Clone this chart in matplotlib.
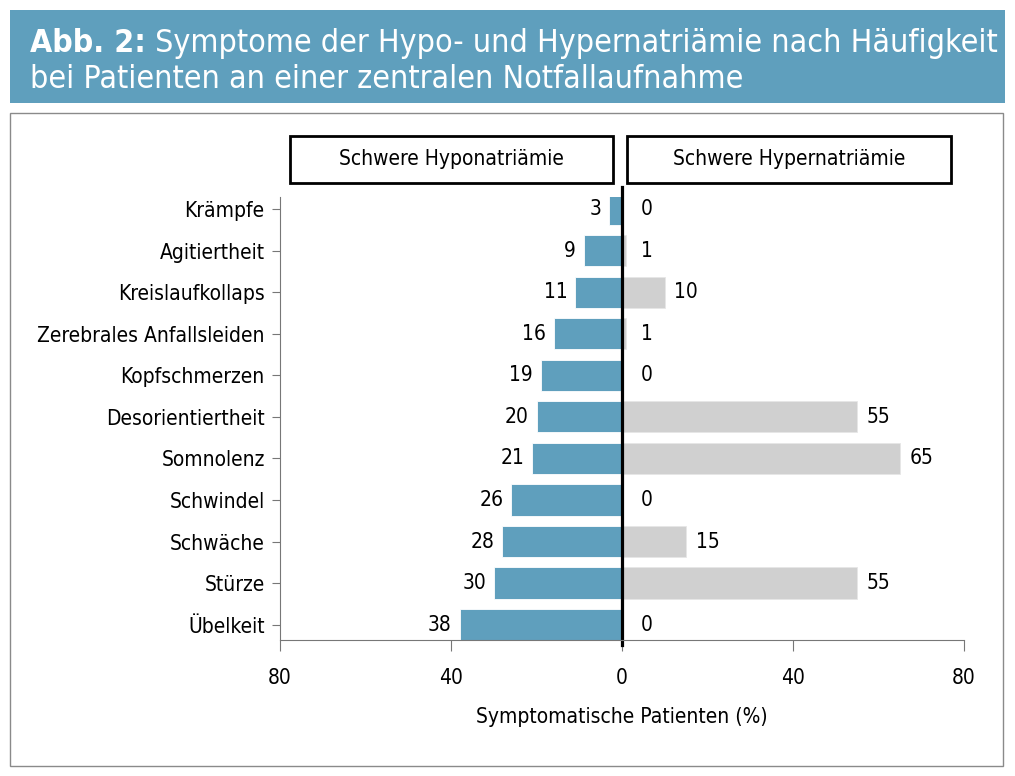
import matplotlib
matplotlib.use('Agg')
import matplotlib.pyplot as plt
from matplotlib.patches import Rectangle
from matplotlib.text import Annotation

symptoms = ['Krämpfe', 'Agitiertheit', 'Kreislaufkollaps', 'Zerebrales Anfallsleiden',
            'Kopfschmerzen', 'Desorientiertheit', 'Somnolenz', 'Schwindel',
            'Schwäche', 'Stürze', 'Übelkeit']
hypo = [3, 9, 11, 16, 19, 20, 21, 26, 28, 30, 38]
hyper = [0, 1, 10, 1, 0, 55, 65, 0, 15, 55, 0]
xticks = [-80, -40, 0, 40, 80]
xticklabels = ['80', '40', '0', '40', '80']

plt.rcParams['font.family'] = ['DejaVu Sans']
plt.rcParams['font.stretch'] = 'condensed'
blue = '#5f9fbd'
grey = '#d0d0d0'
fs = 15

fig = plt.figure(figsize=(10.15, 7.76), dpi=100)

# titelband + rahmen
fig.patches.append(Rectangle((10 / 1015, 1 - 103 / 776), 995 / 1015, 93 / 776,
                             transform=fig.transFigure, facecolor=blue, edgecolor='none'))
fig.patches.append(Rectangle((10 / 1015, 1 - 766 / 776), 993 / 1015, 653 / 776,
                             transform=fig.transFigure, facecolor='none',
                             edgecolor='#8a8a8a', linewidth=1))
t1 = fig.text(30 / 1015, 1 - 59 / 776, 'Abb. 2:', color='white', fontsize=23,
              fontweight='bold', va='bottom', ha='left')
fig.add_artist(Annotation(' Symptome der Hypo- und Hypernatriämie nach Häufigkeit',
                          xy=(1, 0), xycoords=t1, color='white', fontsize=23,
                          va='bottom', ha='left'))
fig.text(30 / 1015, 1 - 80 / 776, 'bei Patienten an einer zentralen Notfallaufnahme',
         color='white', fontsize=23, va='center', ha='left')

ax = fig.add_axes([280 / 1015, 1 - 640 / 776, 684 / 1015, 443 / 776])
y = range(len(symptoms))
ax.barh(y, [-v for v in hypo], height=0.75, color=blue, edgecolor='white', linewidth=0.6)
ax.barh(y, hyper, height=0.75, color=grey, edgecolor='#e6e6e6', linewidth=0.6)

for i, (a, b) in enumerate(zip(hypo, hyper)):
    ax.text(-a - 1.8, i, str(a), ha='right', va='center', fontsize=fs)
    ax.text(max(b + 2.2, 4.4), i, str(b), ha='left', va='center', fontsize=fs)

ax.set_xlim(-80, 80)
ax.set_ylim(10.37, -0.29)
ax.set_yticks(list(y))
ax.set_yticklabels(symptoms, fontsize=fs)
ax.set_xticks(xticks)
ax.set_xticklabels(xticklabels, fontsize=fs)
ax.set_xlabel('Symptomatische Patienten (%)', fontsize=fs, labelpad=14)

for s in ['top', 'right']:
    ax.spines[s].set_visible(False)
for s in ['left', 'bottom']:
    ax.spines[s].set_color('#777777')
ax.tick_params(axis='y', length=6, color='#777777', pad=5)
ax.tick_params(axis='x', length=8, color='#777777', pad=12)

# nulllinie
ax.plot([0, 0], [-0.53, 10.49], color='black', linewidth=2.3, clip_on=False)

# kopfboxen
for x0, x1, label in [(-77.7, -2.1, 'Schwere Hyponatriämie'),
                      (1.2, 77.0, 'Schwere Hypernatriämie')]:
    ax.add_patch(Rectangle((x0, -1.76), x1 - x0, 1.13, facecolor='white',
                           edgecolor='black', linewidth=2, clip_on=False))
    ax.text((x0 + x1) / 2, -1.2, label, ha='center', va='center', fontsize=fs)

fig.savefig('out.png', dpi=100)
